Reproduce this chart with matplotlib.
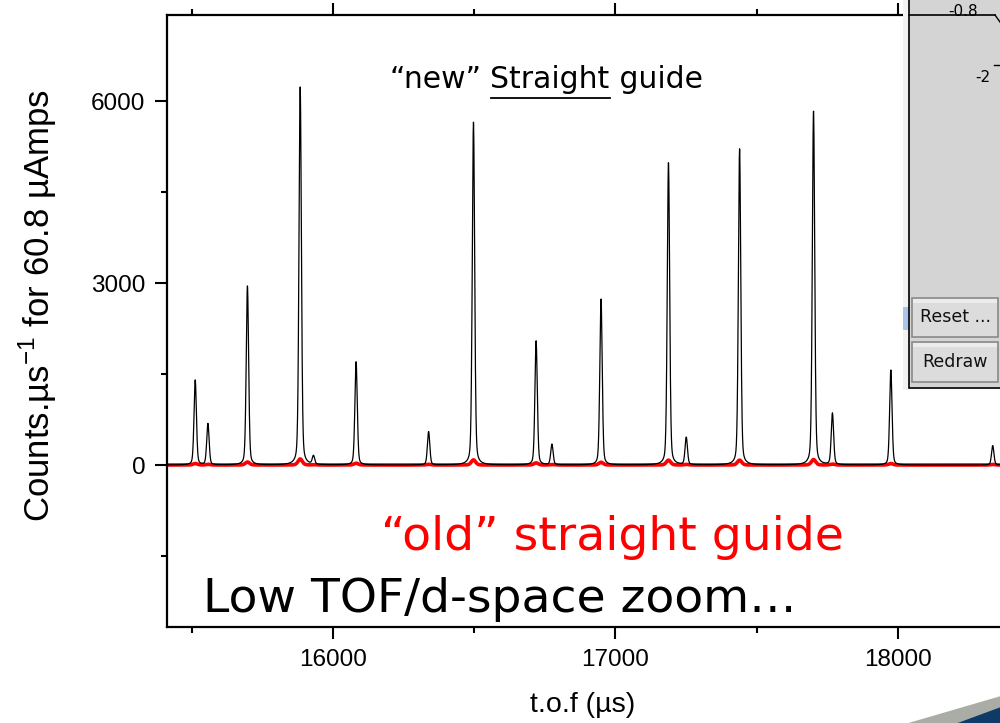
import numpy as np
import matplotlib
matplotlib.use("Agg")
import matplotlib.pyplot as plt
from matplotlib.patches import Rectangle, Polygon

# ---------------- data ----------------
peak_tof = [15511, 15556, 15696, 15883, 15930, 16081, 16338, 16497, 16719, 16775,
            16949, 17188, 17251, 17440, 17702, 17769, 17976, 18337]
new_heights = [1400, 680, 2950, 6230, 140, 1700, 550, 5650, 2045, 340,
               2735, 4980, 450, 5210, 5830, 850, 1565, 320]
old_heights = [25, 12, 50, 100, 5, 30, 12, 85, 35, 8,
               45, 80, 10, 80, 90, 15, 25, 10]
x_ticks = [16000, 17000, 18000]
y_ticks = [0, 3000, 6000]

FWHM = 10.0  # microseconds


def pv(x, c, h, w):
    d = (x - c) / w
    g = np.exp(-4 * np.log(2) * d ** 2)
    l = 1.0 / (1.0 + 4 * d ** 2)
    return h * (0.7 * g + 0.3 * l)


tof = np.arange(15400, 18600, 0.5)
new_curve = np.zeros_like(tof)
old_curve = np.zeros_like(tof)
for c, hn, ho in zip(peak_tof, new_heights, old_heights):
    new_curve += pv(tof, c, hn, FWHM)
    old_curve += pv(tof, c, ho, FWHM * 1.8)

# ---------------- figure ----------------
W, H = 1000, 723
fig = plt.figure(figsize=(10, 7.23), dpi=100)

xmin = 15411
px_per_us = 0.2822
xmax = 18500
ax_w = (xmax - xmin) * px_per_us / W
ax = fig.add_axes([167 / W, 1 - 627 / H, ax_w, (627 - 15) / H])
ax.set_xlim(xmin, xmax)
ax.set_ylim(-2670, 7418)

ax.plot(tof, old_curve, color="#ff0000", lw=2.6, zorder=2, solid_capstyle="round")
ax.plot(tof, new_curve, color="black", lw=0.9, zorder=3)

ax.set_xticks(x_ticks)
ax.set_xticks([15500, 16500, 17500], minor=True)
ax.set_yticks(y_ticks)
ax.set_yticks([-1500, 1500, 4500], minor=True)
ax.set_xticklabels([str(v) for v in x_ticks])
ax.set_yticklabels([str(v) for v in y_ticks])
ax.tick_params(which="major", direction="out", top=True, right=True, length=8.5, width=1.5,
               labelsize=17.5, pad=7)
ax.tick_params(which="minor", direction="out", top=True, right=True, length=4, width=1.5)
for lab in ax.get_xticklabels() + ax.get_yticklabels():
    lab.set_fontfamily("Liberation Sans")
for s in ax.spines.values():
    s.set_linewidth(1.6)

# axis labels
fig.text(38 / W, 1 - 306 / H, "Counts.\u00b5s$^{\\mathregular{-1}}$ for 60.8 \u00b5Amps",
         rotation=90, ha="center", va="center", fontsize=25, family="Liberation Sans")
fig.text(583 / W, 1 - 705 / H, "t.o.f (\u00b5s)", ha="center", va="center",
         fontsize=20.5, family="Liberation Sans")

# annotations
fnt = "DejaVu Sans"
fs_new = 21.5
t1 = fig.text(390 / W, 1 - 80 / H, "\u201cnew\u201d ", ha="left", va="center",
              fontsize=fs_new, family=fnt)
fig.canvas.draw()
r = fig.canvas.get_renderer()
bb1 = t1.get_window_extent(r)
t2 = fig.text(bb1.x1 / W, 1 - 80 / H, "Straight", ha="left", va="center",
              fontsize=fs_new, family=fnt)
bb2 = t2.get_window_extent(r)
t3 = fig.text(bb2.x1 / W, 1 - 80 / H, " guide", ha="left", va="center",
              fontsize=fs_new, family=fnt)
fig.add_artist(plt.Line2D([bb2.x0 / W, bb2.x1 / W], [1 - 98 / H, 1 - 98 / H],
                          color="black", lw=1.3))

fig.text(612 / W, 1 - 537 / H, "\u201cold\u201d straight guide", ha="center", va="center",
         fontsize=34, family=fnt, color="#ff0000")
fig.text(203 / W, 1 - 600 / H, "Low TOF/d-space zoom\u2026", ha="left", va="center",
         fontsize=34, family=fnt, color="black")

# ---------------- overlay (screenshot panel + decoration) ----------------
ov = fig.add_axes([0, 0, 1, 1], zorder=10)
ov.set_xlim(0, W)
ov.set_ylim(H, 0)
ov.axis("off")
ov.patch.set_alpha(0)

ov.add_patch(Rectangle((903, 0), 6, 390, facecolor="#f2f2f2", edgecolor="none"))
ov.add_patch(Rectangle((903, 307), 6, 23, facecolor="#a9c6ea", edgecolor="none"))
ov.add_patch(Rectangle((909, -2), 100, 390, facecolor="#d4d4d4", edgecolor="black", lw=1.2))
ov.plot([909, 995], [15, 15], color="black", lw=1.2)
ov.plot([995, 1000], [15, 22], color="black", lw=1.0)
ov.plot([994, 1000], [65, 65], color="black", lw=1.0)
ov.text(963, 11, "-0.8", ha="center", va="center", fontsize=11, family="DejaVu Sans")
ov.text(983, 78, "-2", ha="center", va="center", fontsize=11, family="DejaVu Sans")

for (y0, y1, label) in [(298, 337, "Reset ..."), (342, 382, "Redraw")]:
    ov.add_patch(Rectangle((912, y0), 86, y1 - y0, facecolor="#dcdcdc",
                           edgecolor="#8a8a8a", lw=1.2))
    ov.add_patch(Rectangle((913, y0 + 1), 84, 4, facecolor="#ececec", edgecolor="none"))
    ov.text(955, (y0 + y1) / 2, label, ha="center", va="center", fontsize=12.5,
            family="DejaVu Sans", color="#111111")

# bottom-right swoosh
ov.add_patch(Polygon([(905, 724), (1001, 696), (1001, 724)], closed=True,
                     facecolor="#a9ada5", edgecolor="none"))
ov.add_patch(Polygon([(955, 724), (1001, 707), (1001, 724)], closed=True,
                     facecolor="#0d3a66", edgecolor="none"))

fig.savefig("out.png", dpi=100)
